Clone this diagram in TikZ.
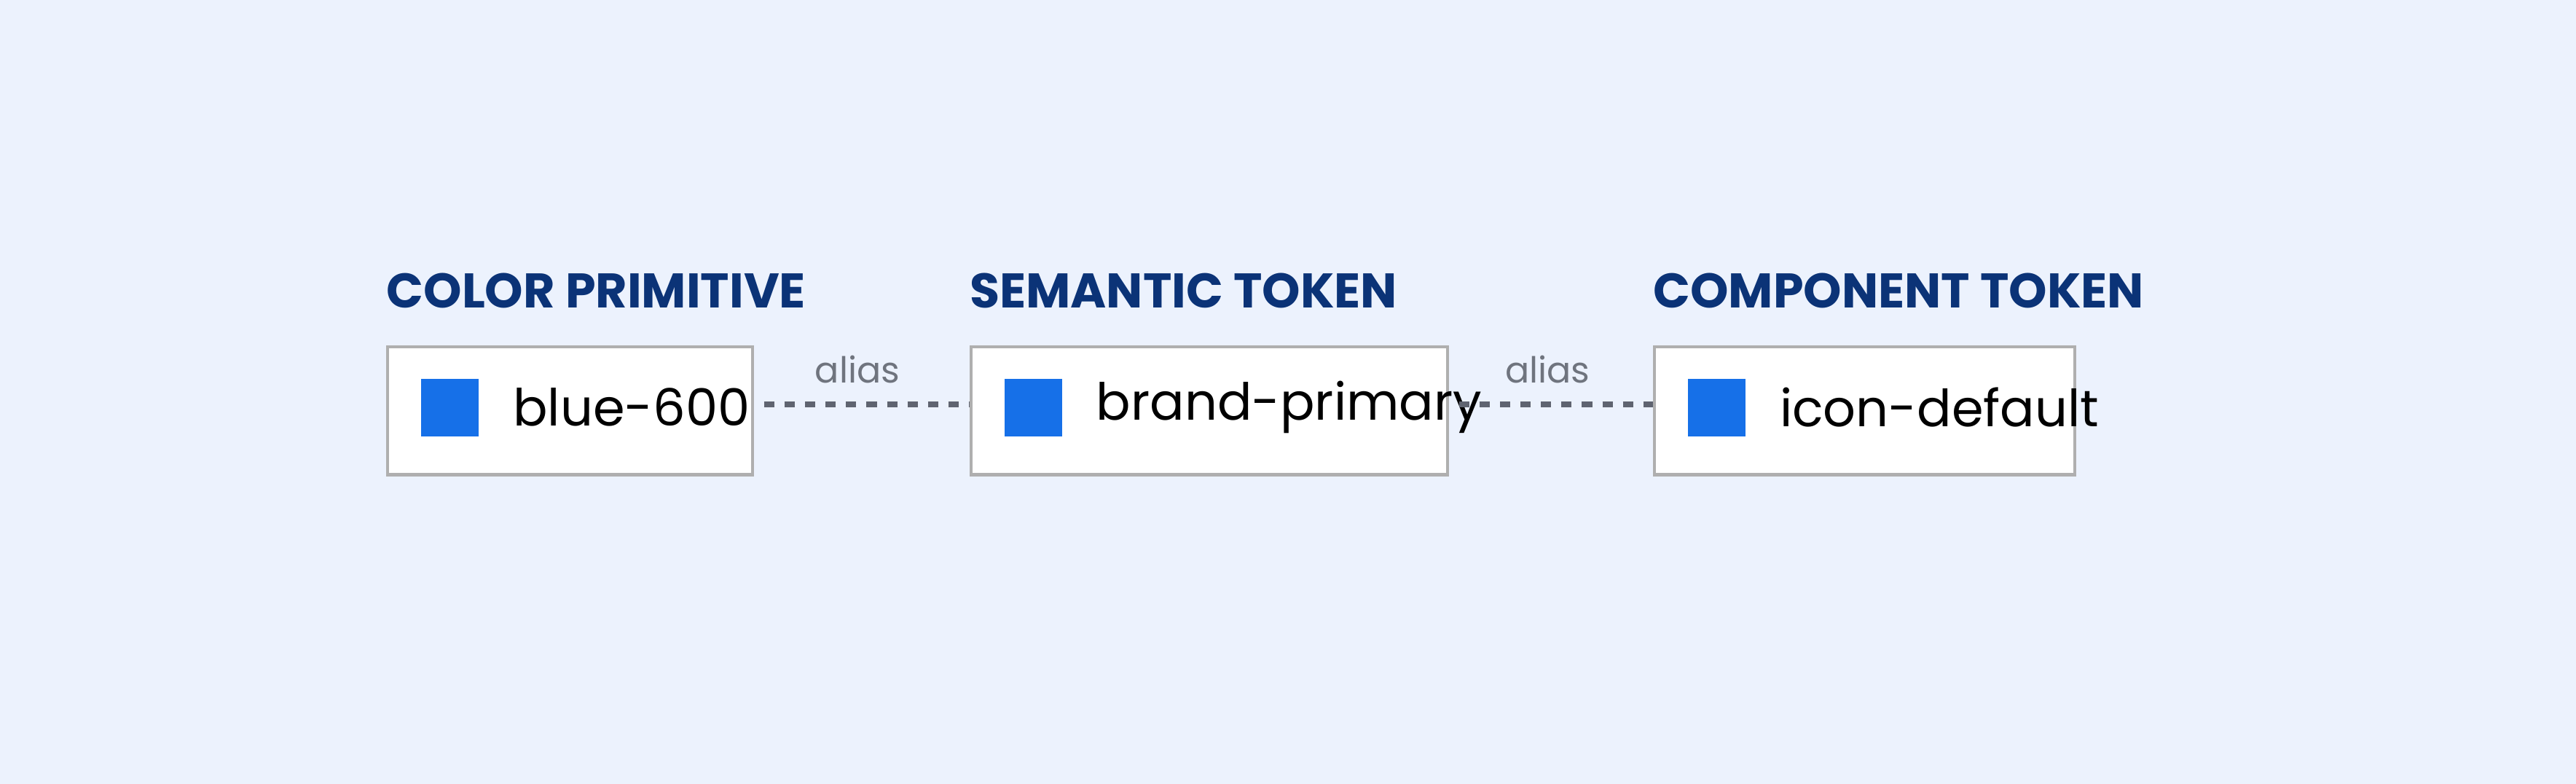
\documentclass[tikz,border=0pt]{standalone}
\usepackage{fontspec}
\setmainfont{Poppins}
\usetikzlibrary{positioning}
\definecolor{bgblue}{HTML}{ECF2FD}
\definecolor{headblue}{HTML}{0B3377}
\definecolor{swatch}{HTML}{1670E8}
\definecolor{boxline}{HTML}{AFAFAF}
\definecolor{dashgray}{HTML}{5F6470}
\tikzset{
  tokenbox/.style={draw=boxline,line width=1.2pt,fill=white,anchor=north west,minimum height=78*0.02255cm,inner sep=0pt},
  header/.style={anchor=west,inner sep=0pt,text=headblue,font=\fontsize{19}{22}\selectfont\bfseries},
  swatchbox/.style={fill=swatch,minimum size=35*0.02255cm,inner sep=0pt,anchor=west},
  tokenlabel/.style={anchor=west,inner sep=0pt,font=\fontsize{20}{24}\selectfont},
  aliaslabel/.style={inner sep=0pt,text=dashgray!90,font=\fontsize{14}{16}\selectfont},
  aliasline/.style={dashed,dash pattern=on 4pt off 4pt,line width=2.2pt,draw=dashgray}
}
\begin{document}
\begin{tikzpicture}[x=0.02255cm,y=-0.02255cm]
  \fill[bgblue] (0,0) rectangle (1568,477);

  % boxes
  \node[tokenbox,minimum width=222*0.02255cm] (prim) at (235,210) {};
  \node[tokenbox,minimum width=290*0.02255cm] (sem) at (590,210) {};
  \node[tokenbox,minimum width=256*0.02255cm] (comp) at (1006,210) {};

  % headers
  \node[header] (primhead) at (235,177) {COLOR PRIMITIVE};
  \node[header] (semhead) at (590,177) {SEMANTIC TOKEN};
  \node[header] (comphead) at (1006,177) {COMPONENT TOKEN};

  % swatches and names
  \node[swatchbox] (primsw) at (256,248) {};
  \node[tokenlabel] (primname) at (312,248) {blue-600};
  \node[swatchbox] (semsw) at (611,248) {};
  \node[tokenlabel] (semname) at (667,248) {brand-primary};
  \node[swatchbox] (compsw) at (1027,248) {};
  \node[tokenlabel] (compname) at (1083,248) {icon-default};

  % aliases
  \draw[aliasline] ([xshift=4pt]prim.east |- 0,246) coordinate (a1) -- (sem.west |- a1);
  \draw[aliasline] ([xshift=4pt]sem.east |- 0,246) coordinate (a2) -- (comp.west |- a2);
  \node[aliaslabel] (alias1) at (522,225) {alias};
  \node[aliaslabel] (alias2) at (942,225) {alias};
\end{tikzpicture}
\end{document}
